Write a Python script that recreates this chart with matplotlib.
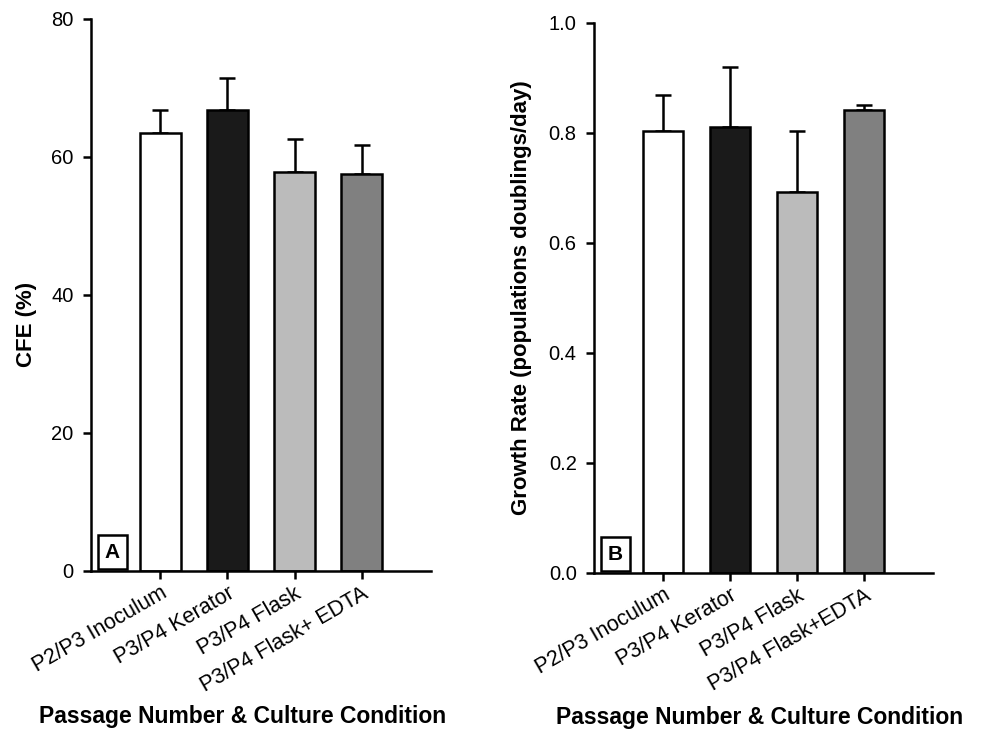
import numpy as np
import matplotlib
matplotlib.use('Agg')
import matplotlib.pyplot as plt

plt.rcParams['font.family'] = ['Liberation Sans', 'DejaVu Sans']

# Data
conditions_a = ['P2/P3 Inoculum', 'P3/P4 Kerator', 'P3/P4 Flask', 'P3/P4 Flask+ EDTA']
conditions_b = ['P2/P3 Inoculum', 'P3/P4 Kerator', 'P3/P4 Flask', 'P3/P4 Flask+EDTA']
cfe = [63.5, 66.8, 57.8, 57.5]
cfe_err = [3.3, 4.7, 4.8, 4.2]
growth = [0.803, 0.810, 0.692, 0.842]
growth_err = [0.065, 0.109, 0.111, 0.008]
bar_colors = ['white', '#1a1a1a', '#bbbbbb', '#808080']

fig = plt.figure(figsize=(9.82, 7.45), dpi=100)
ax_a = fig.add_axes([0.0927, 0.2336, 0.3462, 0.741])
ax_b = fig.add_axes([0.6049, 0.2309, 0.3452, 0.7386])


def draw_panel(ax, labels, vals, errs, ymax, yticks, fmt, letter, ylabel, ylab_xy, xlab_xy):
  x = np.arange(len(vals))
  ax.bar(x, vals, width=0.61, color=bar_colors, edgecolor='black', linewidth=1.8, zorder=2)
  lower = np.zeros(len(vals))
  ax.errorbar(x, vals, yerr=[lower, errs], fmt='none', ecolor='black',
              elinewidth=1.8, capsize=5.5, capthick=1.8, zorder=1)
  ax.set_xlim(-1.03, 4.03)
  ax.set_ylim(0, ymax)
  ax.set_yticks(yticks)
  ax.set_yticklabels([fmt.format(v) for v in yticks], fontsize=14.5)
  ax.set_xticks(x)
  ax.set_xticklabels(labels, rotation=30, ha='right', rotation_mode='anchor', fontsize=15.5)
  for side in ['top', 'right']:
    ax.spines[side].set_visible(False)
  for side in ['left', 'bottom']:
    ax.spines[side].set_linewidth(1.8)
  ax.tick_params(direction='out', length=5.5, width=1.8)
  ax.tick_params(axis='y', pad=7)
  ax.tick_params(axis='x', pad=3)
  ax.set_ylabel(ylabel, fontsize=16, fontweight='bold')
  ax.yaxis.set_label_coords(*ylab_xy)
  ax.set_xlabel('Passage Number & Culture Condition', fontsize=16.5, fontweight='bold')
  ax.xaxis.set_label_coords(*xlab_xy)
  ax.text(0.063, 0.034, letter, transform=ax.transAxes, fontsize=15, fontweight='bold',
          ha='center', va='center',
          bbox=dict(boxstyle='square,pad=0.35', fc='white', ec='black', lw=1.8))


draw_panel(ax_a, conditions_a, cfe, cfe_err, 80, [0, 20, 40, 60, 80], '{:d}', 'A',
           'CFE (%)', (-0.16, 0.446), (0.447, -0.242))
draw_panel(ax_b, conditions_b, growth, growth_err, 1.0, [0.0, 0.2, 0.4, 0.6, 0.8, 1.0], '{:.1f}', 'B',
           'Growth Rate (populations doublings/day)', (-0.183, 0.5), (0.487, -0.242))

fig.savefig('out.png', dpi=100)
